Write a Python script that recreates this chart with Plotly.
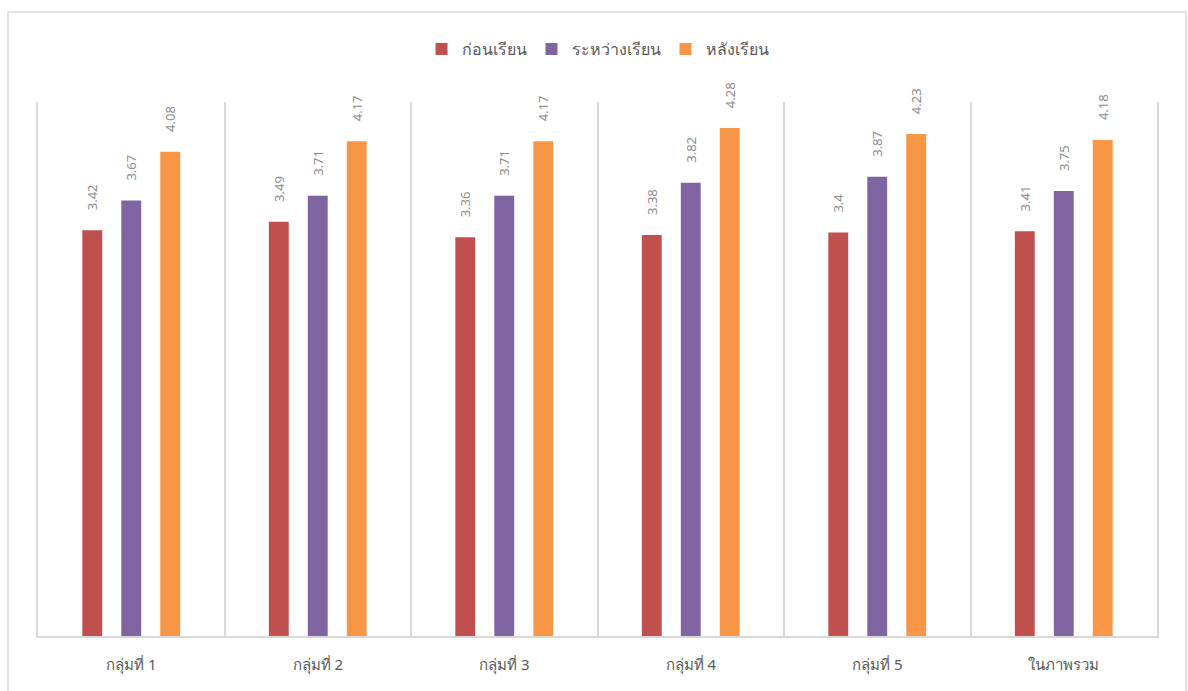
import plotly.graph_objects as go

categories = ["กลุ่มที่ 1", "กลุ่มที่ 2", "กลุ่มที่ 3", "กลุ่มที่ 4", "กลุ่มที่ 5", "ในภาพรวม"]
series_names = ["ก่อนเรียน", "ระหว่างเรียน", "หลังเรียน"]
before = [3.42, 3.49, 3.36, 3.38, 3.40, 3.41]
during = [3.67, 3.71, 3.71, 3.82, 3.87, 3.75]
after = [4.08, 4.17, 4.17, 4.28, 4.23, 4.18]
colors = ["#C0504D", "#8064A2", "#F79646"]

fig = go.Figure()
for name, vals, col in zip(series_names, [before, during, after], colors):
    fig.add_trace(go.Bar(
        x=categories, y=vals, name=name,
        marker=dict(color=col, line=dict(width=0)),
        text=[f"{v:g}" for v in vals],
        texttemplate="\u00a0\u00a0\u00a0\u00a0\u00a0%{text}",
        textposition="outside", textangle=-90, constraintext="none",
        textfont=dict(size=13, color="#8c8c8c", family="Noto Sans, sans-serif"),
        cliponaxis=False,
    ))

fig.update_layout(
    width=1188, height=691,
    paper_bgcolor="white", plot_bgcolor="white",
    margin=dict(l=38, r=31, t=102, b=55),
    barmode="group", bargap=0.373, bargroupgap=0.49,
    font=dict(family="Noto Sans, sans-serif", color="#595959"),
    legend=dict(orientation="h", x=0.5, xanchor="center", y=1.0 + (102 - 49) / 534,
                yanchor="middle", font=dict(size=16, color="#595959"),
                itemwidth=30, traceorder="normal", itemsizing="constant"),
    showlegend=True,
    xaxis=dict(tickson="boundaries", showgrid=True, gridcolor="#d9d9d9", gridwidth=2,
               showline=True, linecolor="#d9d9d9", linewidth=2, ticks="",
               tickfont=dict(size=15, color="#595959"), ticklabelstandoff=14),
    yaxis=dict(range=[0, 4.5], showgrid=False, showticklabels=False, zeroline=False,
               showline=True, mirror=True, linecolor="#d9d9d9", linewidth=2, ticks=""),
    shapes=[dict(type="rect", xref="paper", yref="paper",
                 x0=-30 / 1119, x1=1148 / 1119, y0=-0.3, y1=(636 - 12) / 534,
                 line=dict(color="#d9d9d9", width=1.5), fillcolor="rgba(0,0,0,0)", layer="below")],
)

fig.write_html("out.html")
